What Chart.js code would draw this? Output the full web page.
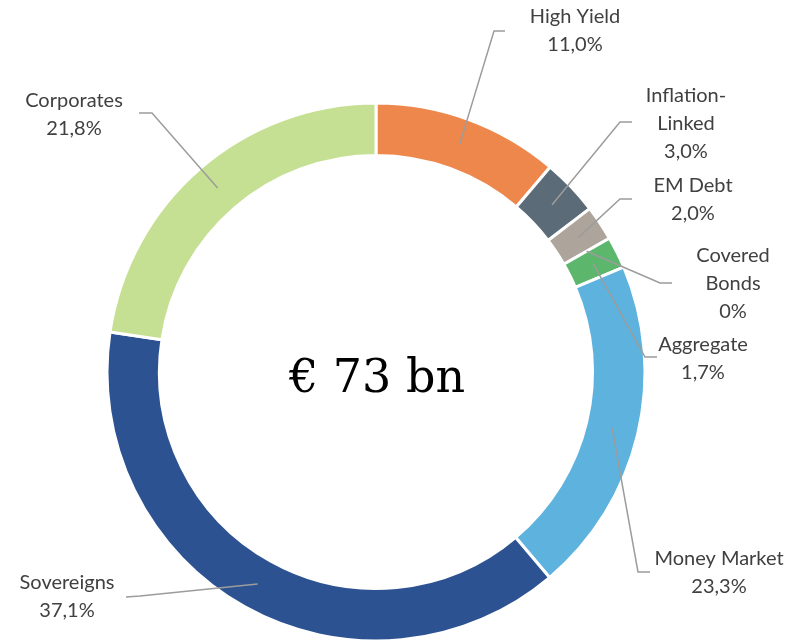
<!DOCTYPE html>
<html>
<head>
<meta charset="utf-8">
<script src="https://cdn.jsdelivr.net/npm/chart.js@4/dist/chart.umd.min.js"></script>
<style>
  html, body { margin: 0; padding: 0; background: #ffffff; overflow: hidden; }
  #wrap { width: 807px; height: 641px; overflow: hidden; }
</style>
</head>
<body>
<div id="wrap"><canvas id="c" width="807" height="660"></canvas></div>
<script>
// ---- data ----
const categories = ['High Yield', 'Inflation-Linked', 'EM Debt', 'Covered Bonds', 'Aggregate', 'Money Market', 'Sovereigns', 'Corporates'];
// slice sizes as drawn in the picture (share of the ring, %)
const values = [11.2, 3.4, 2.1, 0, 1.9, 20.2, 38.5, 22.6];
// percentages as printed on the labels
const printedPct = ['11,0%', '3,0%', '2,0%', '0%', '1,7%', '23,3%', '37,1%', '21,8%'];
const sliceColors = ['#EE874B', '#5B6B78', '#ADA59B', '#7FB06A', '#5CB66C', '#5DB3DD', '#2C5291', '#C5E093'];
const centerTitle = '€ 73 bn';
const labelLines = [['High Yield'], ['Inflation-', 'Linked'], ['EM Debt'], ['Covered', 'Bonds'], ['Aggregate'], ['Money Market'], ['Sovereigns'], ['Corporates']];

// ---- label layout (pixels on the canvas) ----
const labelLayout = [
  { cx: 575, y0: 17,  elbow: [494, 31],  end: [505, 31] },
  { cx: 686, y0: 96,  elbow: [620, 122], end: [632, 122] },
  { cx: 693, y0: 186, elbow: [620, 199], end: [632, 199] },
  { cx: 733, y0: 256, elbow: [660, 283], end: [672, 283] },
  { cx: 703, y0: 345, elbow: [645, 357], end: [657, 357] },
  { cx: 719, y0: 559, elbow: [638, 572], end: [650, 572] },
  { cx: 67,  y0: 583, elbow: [140, 596], end: [126, 597] },
  { cx: 74,  y0: 101, elbow: [152, 113], end: [139, 113] }
];
const LINE_H = 28;

const leaderPlugin = {
  id: 'leaders',
  afterDatasetsDraw(chart) {
    const ctx = chart.ctx;
    const meta = chart.getDatasetMeta(0);
    ctx.save();
    meta.data.forEach((arc, i) => {
      const p = arc.getProps(['x', 'y', 'startAngle', 'endAngle', 'innerRadius', 'outerRadius'], true);
      const mid = (p.startAngle + p.endAngle) / 2;
      const r = (p.innerRadius + p.outerRadius) / 2;
      const ax = p.x + Math.cos(mid) * r;
      const ay = p.y + Math.sin(mid) * r;
      const L = labelLayout[i];
      ctx.strokeStyle = '#9C9C9C';
      ctx.lineWidth = 1.5;
      ctx.beginPath();
      ctx.moveTo(ax, ay);
      ctx.lineTo(L.elbow[0], L.elbow[1]);
      ctx.lineTo(L.end[0], L.end[1]);
      ctx.stroke();

      const lines = labelLines[i].concat([printedPct[i]]);
      ctx.fillStyle = '#404040';
      ctx.font = '20px Lato';
      ctx.textAlign = 'center';
      ctx.textBaseline = 'middle';
      lines.forEach((t, k) => ctx.fillText(t, L.cx, L.y0 + k * LINE_H));
    });

    // centre title
    const a0 = meta.data[0];
    ctx.fillStyle = '#000000';
    ctx.font = '46px "DejaVu Serif"';
    ctx.textAlign = 'center';
    ctx.textBaseline = 'alphabetic';
    ctx.fillText(centerTitle, a0.x + 1, a0.y + 20);
    ctx.restore();
  }
};

new Chart(document.getElementById('c'), {
  type: 'doughnut',
  data: {
    labels: categories,
    datasets: [{
      data: values,
      backgroundColor: sliceColors,
      borderColor: '#ffffff',
      borderWidth: 3
    }]
  },
  options: {
    responsive: false,
    devicePixelRatio: 1,
    animation: false,
    cutout: '80.5%',
    layout: { padding: { left: 0, right: 55, top: 101.5, bottom: 17.5 } },
    plugins: {
      legend: { display: false },
      tooltip: { enabled: false }
    }
  },
  plugins: [leaderPlugin]
});
</script>
</body>
</html>
